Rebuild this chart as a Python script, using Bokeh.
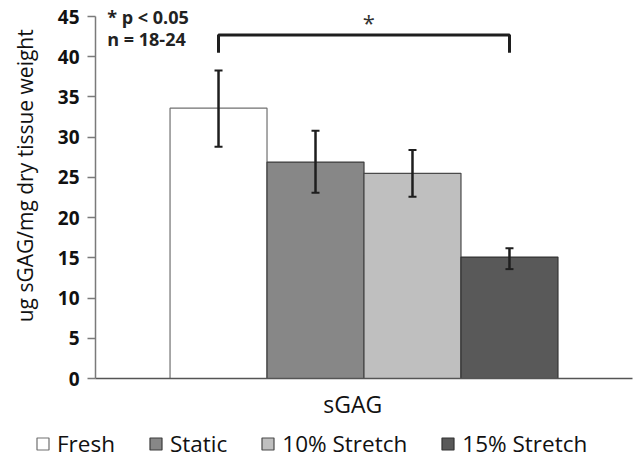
import math
from bokeh.plotting import figure
from bokeh.models import (Range1d, ColumnDataSource, Whisker, Legend, LinearAxis,
                          LegendItem, Label, FixedTicker, TeeHead)
from bokeh.embed import file_html
from bokeh.resources import INLINE

# ---- data ----
category = "sGAG"
y_title = "ug sGAG/mg dry tissue weight"
series = ["Fresh", "Static", "10% Stretch", "15% Stretch"]
means = [33.6, 26.9, 25.5, 15.1]
err_low = [28.8, 23.1, 22.6, 13.6]
err_high = [38.3, 30.8, 28.4, 16.2]
y_ticks = [0, 5, 10, 15, 20, 25, 30, 35, 40, 45]
bracket_level = 42.7
bracket_leg = 40.5
star_level = 44.3
note_lines = ["* p < 0.05", "n = 18-24"]
note_levels = [45.0, 42.2]

# ---- styles / positions (category spans 0..1) ----
fills = ["#ffffff", "#878787", "#bfbfbf", "#595959"]
outlines = ["#707070", "#3c3c3c", "#4a4a4a", "#333333"]
FONT = "Open Sans"
W, H = 636, 460
bar_w = 0.1806
cat_center = 0.5
xs = [cat_center + (i - 1.5) * bar_w for i in range(4)]
px_per_unit = 362 / 45.0

p = figure(width=W, height=H, x_range=Range1d(-95 / 537, 1 + 4 / 537),
           y_range=Range1d(-(H - 378) / px_per_unit, 45 + 16 / px_per_unit),
           output_backend="svg", toolbar_location=None,
           min_border_left=0, min_border_right=0, min_border_top=0, min_border_bottom=0,
           x_axis_location=None, y_axis_location=None)
p.outline_line_color = None
p.grid.grid_line_color = None
p.background_fill_color = "white"
p.border_fill_color = "white"

renderers = []
for i, name in enumerate(series):
    src = ColumnDataSource(dict(x=[xs[i]], top=[means[i]], lo=[err_low[i]], hi=[err_high[i]]))
    r = p.vbar(x="x", top="top", bottom=0, width=bar_w,
               source=src, fill_color=fills[i], line_color=outlines[i], line_width=1.2)
    renderers.append(r)
    w = Whisker(source=src, base="x", upper="hi", lower="lo",
                line_color="#1e1e1e", line_width=2.5, level="overlay",
                upper_head=TeeHead(size=8, line_color="#1e1e1e", line_width=2),
                lower_head=TeeHead(size=8, line_color="#1e1e1e", line_width=2))
    p.add_layout(w)

# significance bracket between Fresh and 15% Stretch
bx = [xs[0], xs[0], xs[3], xs[3]]
by = [bracket_leg, bracket_level, bracket_level, bracket_leg]
p.line(bx, by, line_color="#1e1e1e", line_width=3)
p.add_layout(Label(x=cat_center + 0.009, y=star_level, text="*", text_font=FONT, text_font_size="22px",
                   text_color="#333333", text_align="center", text_baseline="middle"))
for t, lv in zip(note_lines, note_levels):
    p.add_layout(Label(x=0.022, y=lv, text=t, text_font=FONT, text_font_size="18px",
                       text_font_style="bold", text_color="#222222", text_baseline="middle"))

# y axis at the category's left edge
yax = LinearAxis(fixed_location=0, bounds=(0, 45), ticker=FixedTicker(ticks=y_ticks))
yax.major_label_text_font = FONT
yax.major_label_text_font_size = "19px"
yax.major_label_text_font_style = "bold"
yax.major_label_text_color = "#111111"
yax.major_tick_out = 8
yax.major_tick_in = 0
yax.minor_tick_line_color = None
yax.axis_line_color = "#7a7a7a"
yax.axis_line_width = 1.5
yax.major_tick_line_color = "#7a7a7a"
yax.major_tick_line_width = 1.5
yax.major_label_standoff = 8
p.add_layout(yax, "left")
# y-axis title
p.add_layout(Label(x=-71 / 537, y=25.2, text=y_title, angle=math.pi / 2, text_font=FONT,
                   text_font_size="21px", text_color="#111111", text_align="center",
                   text_baseline="middle"))

# x axis at y = 0
xax = LinearAxis(fixed_location=0, bounds=(0, 1), ticker=FixedTicker(ticks=[0.479]),
                 major_label_overrides={0.479: category})
xax.minor_tick_line_color = None
xax.major_tick_line_color = None
xax.axis_line_color = "#555555"
xax.axis_line_width = 1.5
xax.major_label_text_font = FONT
xax.major_label_text_font_size = "23px"
xax.major_label_text_color = "#111111"
xax.major_label_standoff = 3
p.add_layout(xax, "below")

legend = Legend(items=[LegendItem(label=s, renderers=[r]) for s, r in zip(series, renderers)],
                orientation="horizontal", location=(35, 1), glyph_width=15, glyph_height=15,
                label_standoff=7, spacing=33, border_line_color=None, background_fill_alpha=0,
                label_text_font=FONT, label_text_font_size="22.5px", label_text_color="#111111",
                padding=0, margin=0)
p.add_layout(legend)

open("out.html", "w").write(file_html(p, INLINE))
